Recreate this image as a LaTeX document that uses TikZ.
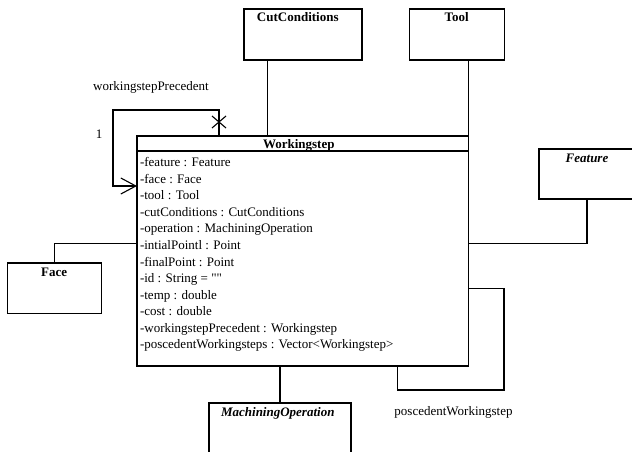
\documentclass[tikz,border=0pt]{standalone}
\usepackage{fontspec}
\setmainfont{Liberation Serif}
\newfontfamily\rawser{Liberation Serif}
\usetikzlibrary{arrows.meta}
\begin{document}
\begin{tikzpicture}[x=1pt,y=-1pt,line width=1.1pt,
  font=\fontsize{13}{16.5}\selectfont,
  box/.style={draw,rectangle,anchor=north west,inner sep=0pt,outer sep=0pt},
  ttl/.style={anchor=base,inner sep=0pt,font=\fontsize{13}{16.5}\selectfont\bfseries},
  ttli/.style={anchor=base,inner sep=0pt,font=\fontsize{13}{16.5}\selectfont\bfseries\itshape},
  lbl/.style={anchor=base,inner sep=0pt},
  row/.style={anchor=base west,inner sep=0pt},
  openhead/.style={-{Straight Barb[length=15pt,width=16pt]}}]
\useasboundingbox (0,0) rectangle (632,452);
\clip (0,0) rectangle (632,452);
% boxes
\node[box,minimum width=118pt,minimum height=51pt] (cut) at (244,9) {};
\node[box,minimum width=95pt,minimum height=51pt] (tool) at (409.5,9) {};
\node[box,minimum width=96pt,minimum height=50pt] (feat) at (539,149) {};
\node[box,minimum width=94.5pt,minimum height=50.5pt] (face) at (7.3,263) {};
\node[box,minimum width=142pt,minimum height=60pt] (mach) at (209,403) {};
\node[box,minimum width=331.5pt,minimum height=230pt] (ws) at (137,136) {};
% titles
\node[ttl] (cutT) at (297.8,21.7) {CutConditions};
\node[ttl] (toolT) at (456.7,21.7) {Tool};
\node[ttli] (featT) at (587,162.3) {Feature};
\node[ttl] (faceT) at (54.2,276.7) {Face};
\node[ttli] (machT) at (277.8,416) {MachiningOperation};
\node[ttl] (wsT) at (298.8,148.5) {Workingstep};
% header separator
\coordinate (hy) at (0,151);
\draw (ws.west |- hy) -- (ws.east |- hy);
% attributes
\foreach \t [count=\i] in {{-feature : Feature},{-face : Face},{-tool : Tool},
  {-cutConditions : CutConditions},{-operation : MachiningOperation},
  {-intialPointl : Point},{-finalPoint : Point},{-id : String = {\rawser ""}},
  {-temp : double},{-cost : double},{-workingstepPrecedent : Workingstep},
  {-poscedentWorkingsteps : Vector<Workingstep>}}
  {\node[row] (row\i) at (139.5,{166.7+16.56*(\i-1)}) {\t};}
% connectors
\coordinate (ccx) at (267.7,0);
\draw (cut.south -| ccx) -- (ws.north -| ccx);
\draw (tool.south -| ws.north east) -- (ws.north east);
\coordinate (fy) at (0,243.3);
\draw (feat.south) |- (ws.east |- fy);
\draw (face.north) |- (ws.west |- fy);
\draw (ws.south -| mach.north) -- (mach.north);
\coordinate (p1) at (504,288.3);
\coordinate (p2) at (397.3,390);
\draw (ws.east |- p1) -- (p1) -- (p1 |- p2) -- (p2) -- (p2 |- ws.south);
\coordinate (s1) at (219,110);
\coordinate (s2) at (113,186);
\draw[openhead] (s1 |- ws.north) -- (s1) -- (s2 |- s1) -- (s2) -- (ws.west |- s2);
\coordinate (xm) at (219,122);
\draw (xm) ++(-7,-6) -- ++(14,12);
\draw (xm) ++(-7,6) -- ++(14,-12);
% labels
\node[lbl] (lprec) at (151,90) {workingstepPrecedent};
\node[lbl] (lone) at (99,138.4) {1};
\node[lbl] (lpos) at (453.5,415.5) {poscedentWorkingstep};
\end{tikzpicture}
\end{document}
